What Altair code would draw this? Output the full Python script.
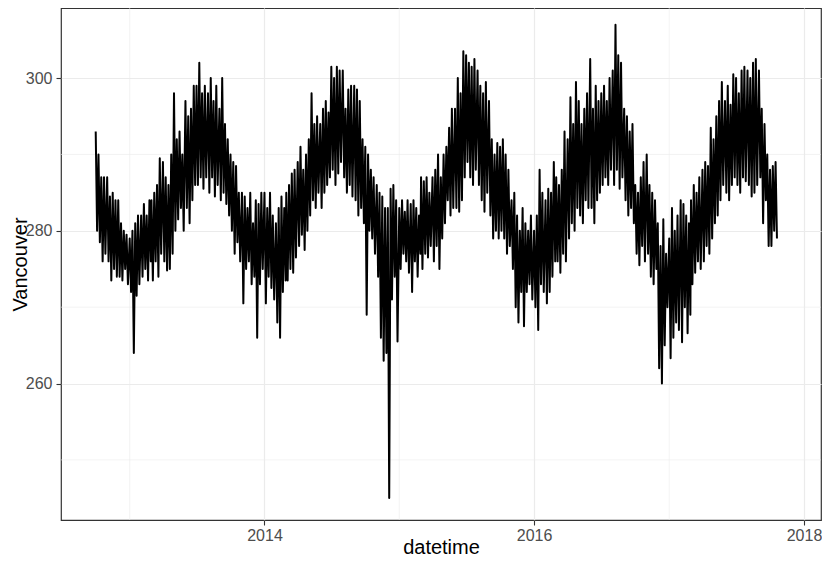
import altair as alt
import pandas as pd

# Month starts covered by the series (Oct 2012 .. Oct 2017)
months = pd.date_range("2012-10-01", periods=61, freq="MS")

# Weekly high / low readings (Kelvin) per month
highs = [
    [293, 290, 287, 287], [287, 284.5, 285, 284], [284, 281, 280, 279.5],
    [279, 280, 281, 282], [282, 283.5, 282, 284], [284, 285, 286, 289.5],
    [289, 287, 286, 290], [298, 292, 293, 290], [297, 295, 296, 299],
    [299, 302, 298, 299], [298, 300, 297, 299], [296, 300, 294, 292],
    [290, 289, 288.5, 285], [285, 284.5, 283, 285], [281, 284, 283.5, 285],
    [285, 283, 285, 282], [281, 283, 284.5, 283], [285, 286, 287.5, 288],
    [289, 291, 288, 290], [292, 298, 294, 295], [294, 296, 297, 295.5],
    [301.5, 300, 301.5, 301], [301, 296, 298.5, 299], [299, 298.5, 297, 292],
    [291, 290, 288, 287], [286, 285, 284.5, 283], [283, 285.5, 286, 284],
    [283, 284, 282.5, 284], [283.5, 284, 283, 282], [287, 286.5, 287, 285],
    [287, 288, 290, 287], [290, 291, 293.5, 296], [296, 300, 298, 303.5],
    [303, 302, 301.5, 302.5], [301, 299, 298, 299.5], [297, 292, 290, 291.5],
    [291, 292, 290, 288], [284, 285, 282, 280], [283, 281, 280, 282],
    [280, 282, 288, 285], [284, 285.5, 285, 289], [287, 286, 288, 293],
    [292, 297.5, 294, 299.5], [297, 294, 296, 298], [302.5, 296, 299, 297],
    [298, 299, 297, 300], [301, 307, 303, 302], [296, 295, 293, 294],
    [286, 285, 287, 289], [290, 286, 285, 284], [281, 278, 281.5, 277],
    [279, 283, 280, 282], [284, 283.5, 282, 281], [284, 286, 285, 287],
    [288, 289, 288.5, 293.5], [292, 295, 297, 299.5], [297, 299, 296.5, 300.5],
    [300, 298, 301, 301.5], [301, 300, 302, 302.5], [301, 296, 294, 290],
    [288, 288.5, 289],
]
lows = [
    [280, 278.5, 276, 277], [276, 273.5, 275, 274], [274, 273.5, 275, 273],
    [272, 264, 271.5, 273], [274, 275, 273.5, 276], [273.5, 276, 274, 277],
    [276, 274.8, 275, 277], [280, 281.5, 283, 280], [283, 281, 284, 286],
    [286, 287, 285.5, 287], [285, 287, 284.5, 286], [284, 285, 283.5, 282],
    [280, 277, 278.5, 276], [270.5, 275, 276, 273], [274, 266, 273, 275],
    [270.5, 274, 272.5, 271], [268, 266, 272, 273.5], [273.5, 275, 274.5, 276.5],
    [278, 279.5, 277.5, 280], [282, 284, 283, 285], [283, 285, 286, 287],
    [288, 286, 287.5, 289], [287, 285, 286, 284.5], [284, 282, 283, 281],
    [269, 280, 279, 277], [274, 266, 263, 264], [245, 271, 274, 265.5],
    [275, 277, 276, 274.5], [272, 276, 274, 277], [275, 277, 276.5, 278],
    [276, 278, 275, 279], [281, 284, 282, 283], [283, 282.5, 284, 287],
    [289, 287, 286, 288], [286, 284, 282.5, 285], [282, 279, 280, 279],
    [280, 279, 277, 278], [275, 270, 268, 272], [267.5, 272, 273, 271],
    [270, 267, 273, 272], [270.5, 272, 274, 276], [276, 274.5, 277, 276],
    [279, 281, 280, 283], [282, 281, 284, 283], [283, 281, 284, 285],
    [286, 287, 286, 288], [286, 288, 285.5, 287], [284, 282, 283, 281],
    [277, 275.5, 278, 276], [277, 274, 273, 275], [262, 260, 265, 270],
    [263.3, 266, 268, 267], [265.4, 270, 266.6, 269], [273, 274.5, 276, 275],
    [276, 278, 277, 279], [281, 282, 284, 286], [285, 284, 286, 287],
    [286, 285, 287, 286.5], [286, 284.5, 285, 286], [287, 281, 284, 278],
    [278, 280, 279],
]

major_years = [2014, 2016, 2018]
minor_years = [2013, 2015, 2017]
y_major = [260, 280, 300]
y_minor = [250, 270, 290]

rows = []
for m, hs, ls in zip(months, highs, lows):
    for k, (h, l) in enumerate(zip(hs, ls)):
        t1 = m + pd.Timedelta(days=k * 7.5)
        t2 = m + pd.Timedelta(days=k * 7.5 + 3.75)
        rows.append({"datetime": t1.strftime("%Y-%m-%dT%H:%M:%S"), "Vancouver": h})
        rows.append({"datetime": t2.strftime("%Y-%m-%dT%H:%M:%S"), "Vancouver": l})
df = pd.DataFrame(rows)

FONT = "Liberation Sans"
GRID = "#EBEBEB"

x_scale = alt.Scale(domain=[alt.DateTime(year=2012, month=6, date=29),
                            alt.DateTime(year=2018, month=2, date=16)], nice=False)
y_scale = alt.Scale(domain=[242.13, 309.18], nice=False, zero=False)

minor_x = alt.Chart(pd.DataFrame({"d": [f"{y}-01-01T00:00:00" for y in minor_years]})).mark_rule(
    color=GRID, strokeWidth=0.6).encode(x=alt.X("d:T", scale=x_scale))
minor_y = alt.Chart(pd.DataFrame({"v": y_minor})).mark_rule(
    color=GRID, strokeWidth=0.6).encode(y=alt.Y("v:Q", scale=y_scale))

line = alt.Chart(df).mark_line(color="black", strokeWidth=2.0, strokeJoin="round").encode(
    x=alt.X("datetime:T", scale=x_scale,
            axis=alt.Axis(values=[alt.DateTime(year=y, month=1, date=1) for y in major_years],
                          format="%Y", title="datetime", titleX=380, titleY=33,
                          titleBaseline="alphabetic", titleAlign="center",
                          labelPadding=2)),
    y=alt.Y("Vancouver:Q", scale=y_scale,
            axis=alt.Axis(values=y_major, title="Vancouver", titleX=-35, titleY=256,
                          titleAngle=270, titleBaseline="alphabetic", titleAlign="center",
                          labelPadding=4)),
)

chart = alt.layer(minor_x, minor_y, line).properties(
    width=760, height=512,
    padding={"left": 53, "top": 0, "right": 1, "bottom": 38},
    autosize=alt.AutoSizeParams(type="none"),
    background="white",
).configure_view(
    stroke="#333333", strokeWidth=1.2
).configure_axis(
    domain=False, grid=True, gridColor=GRID, gridWidth=1.2,
    ticks=True, tickColor="#333333", tickSize=5, tickWidth=1.1,
    labelFont=FONT, labelFontSize=16, labelColor="#4D4D4D",
    titleFont=FONT, titleFontSize=20, titleColor="black", titleFontWeight="normal",
)

chart.save("out.html", embed_options={"renderer": "svg", "actions": False})
